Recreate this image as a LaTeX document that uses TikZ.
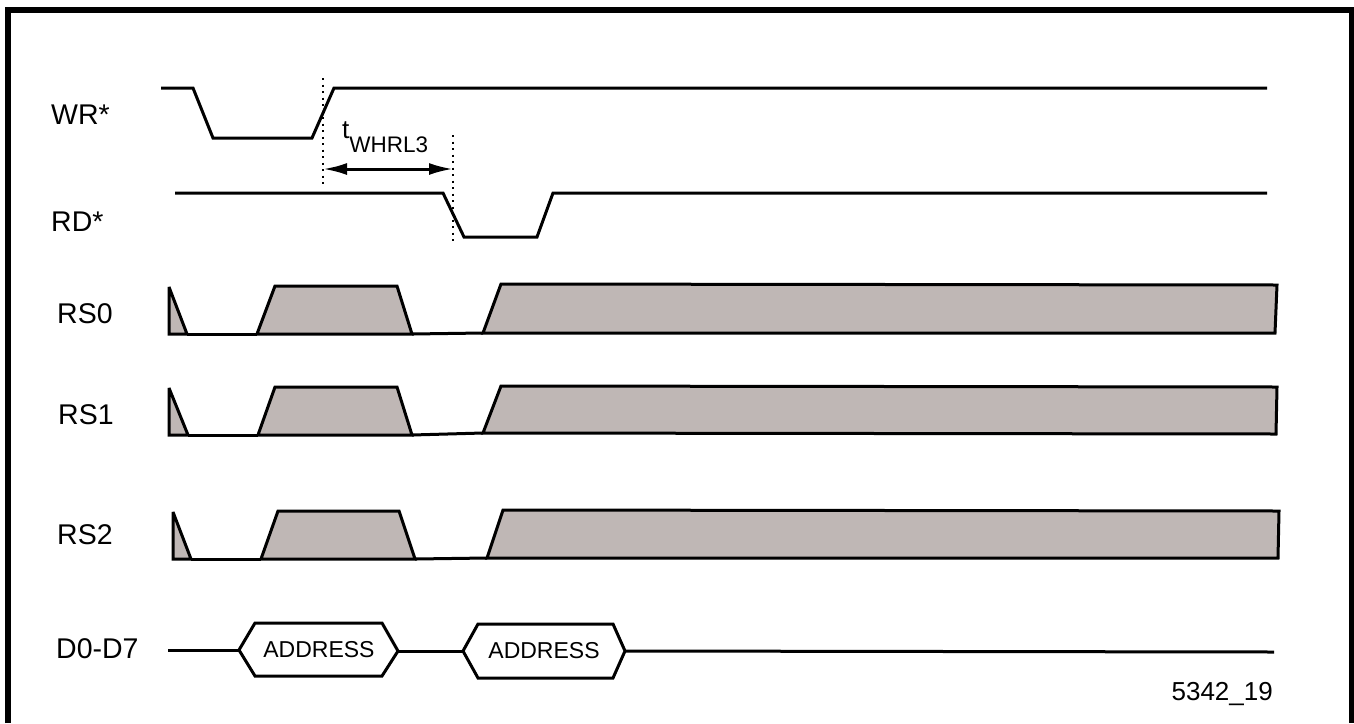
\documentclass[tikz,border=0pt]{standalone}
\usepackage{fontspec}
\setmainfont{Liberation Sans}
\usetikzlibrary{arrows.meta}
\definecolor{sigfill}{RGB}{191,183,181}
\begin{document}
\begin{tikzpicture}[x=1pt,y=-1pt,
		wave/.style={line width=3pt,line join=miter,miter limit=2},
		sig/.style={wave,fill=sigfill},
		mark line/.style={line width=2.4pt,dash pattern=on 2.2pt off 4.3pt},
		lbl/.style={anchor=base west,inner sep=0pt,font=\fontsize{28.5}{30}\selectfont}]
		\useasboundingbox (0,0) rectangle (1354,723);
		\draw[line width=6pt] (8,723) to (8,10) to (1352,10) to (1352,723);
		% signal names
		\node[lbl] (wr) at (51,124) {WR*};
		\node[lbl] (rd) at (51,231) {RD*};
		\node[lbl] (rs0) at (57,323) {RS0};
		\node[lbl] (rs1) at (58,424) {RS1};
		\node[lbl] (rs2) at (57,544) {RS2};
		\node[lbl] (data) at (56,658) {D0-D7};
		% WR* and RD*
		\draw[wave] (161,88) to (193,88) to (213,138) to (312,138) to (334,88) to (1267,88);
		\draw[wave] (175,193) to (443,193) to (464,237) to (537,237) to (553,193) to (1267,193);
		% timing marks
		\coordinate (M1) at (323,169);
		\coordinate (M2) at (453,169);
		\draw[mark line] (323,78) to (323,184);
		\draw[mark line] (453,135) to (453,241);
		\draw[line width=3pt,{Latex[length=24pt,width=12pt]}-{Latex[length=24pt,width=12pt]}] (M1) to (M2);
		\node[anchor=base west,inner sep=0pt,font=\fontsize{26}{28}\selectfont] (twhrl) at (342,138)
			{t\raisebox{-14pt}{\fontsize{22.5}{24}\selectfont WHRL3}};
		% RS0
		\draw[sig] (169,334) to (169,287) to (187,334) to cycle;
		\draw[wave] (187,334) to (257,334);
		\draw[sig] (257,334) to (275,286) to (397,286) to (412,334) to cycle;
		\draw[wave] (412,334) to (483,333);
		\draw[sig] (483,333) to (501,284) to (1277,285) to (1275,333) to cycle;
		% RS1
		\draw[sig] (169,435) to (169,388) to (188,435) to cycle;
		\draw[wave] (188,435) to (258,435);
		\draw[sig] (258,435) to (275,387) to (397,387) to (412,435) to cycle;
		\draw[wave] (412,435) to (483,433);
		\draw[sig] (483,433) to (501,386) to (1277,387) to (1276,434) to cycle;
		% RS2
		\draw[sig] (173,559) to (173,512) to (191,559) to cycle;
		\draw[wave] (191,559) to (261,559);
		\draw[sig] (261,559) to (278,511) to (399,511) to (415,559) to cycle;
		\draw[wave] (415,559) to (487,558);
		\draw[sig] (487,558) to (503,510) to (1279,511) to (1278,558) to cycle;
		% D0-D7
		\draw[wave] (168,650) to (239,650);
		\draw[wave] (239,650) to (255,623) to (382,623) to (398,651) to (382,676) to (255,676) to cycle;
		\draw[wave] (398,651) to (463,651);
		\draw[wave] (463,651) to (478,624) to (613,624) to (625,651) to (613,678) to (478,678) to cycle;
		\draw[wave] (625,651) to (1274,652);
		\node[font=\fontsize{23}{25}\selectfont,inner sep=0pt] (adr1) at (319,650) {ADDRESS};
		\node[font=\fontsize{23}{25}\selectfont,inner sep=0pt] (adr2) at (544,651) {ADDRESS};
		\node[anchor=base east,inner sep=0pt,font=\fontsize{26}{28}\selectfont] (fig) at (1273,700) {5342\_19};
	\end{tikzpicture}
\end{document}
